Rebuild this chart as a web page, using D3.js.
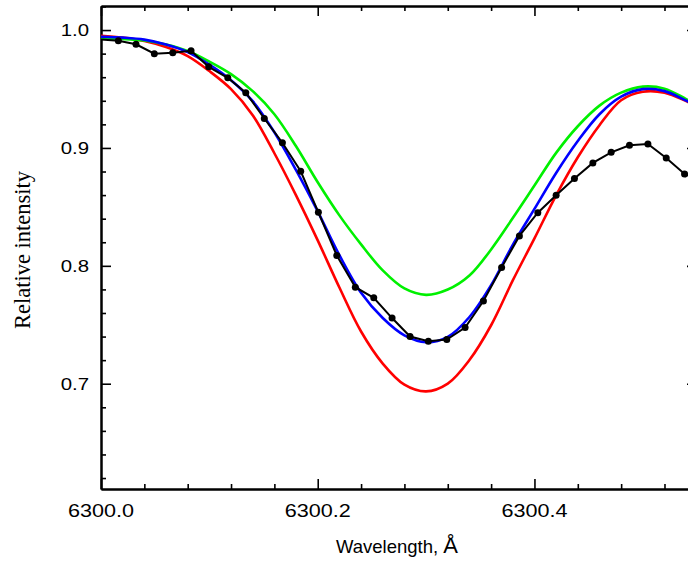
<!DOCTYPE html>
<html>
<head>
<meta charset="utf-8">
<script src="https://cdn.jsdelivr.net/npm/d3@7"></script>
<style>
  body { margin: 0; background: #fff; }
  svg { display: block; }
</style>
</head>
<body>
<div id="lineContainer"></div>
<script>
// observed spectrum (black dots)
var obsWave = [6299.998, 6300.0160, 6300.0323, 6300.0492, 6300.0662, 6300.0831, 6300.0994, 6300.1170,
  6300.1336, 6300.1507, 6300.1674, 6300.1843, 6300.2006, 6300.2176, 6300.2347, 6300.2517, 6300.2686,
  6300.2852, 6300.3021, 6300.3191, 6300.3360, 6300.3529, 6300.3697, 6300.3861, 6300.4031, 6300.4200,
  6300.4369, 6300.4539, 6300.4708, 6300.4877, 6300.5047, 6300.5216, 6300.5385, 6300.5553];
var obsFlux = [0.9921, 0.9909, 0.9879, 0.9800, 0.9807, 0.9824, 0.9688, 0.9595,
  0.9469, 0.9250, 0.9044, 0.8802, 0.8454, 0.8088, 0.7819, 0.7729, 0.7557,
  0.7400, 0.7360, 0.7375, 0.7477, 0.7702, 0.7986, 0.8254, 0.8451, 0.8598,
  0.8740, 0.8873, 0.8963, 0.9023, 0.9034, 0.8915, 0.8779, 0.8720];

// synthetic profiles
var modelWave = [6300.00, 6300.02, 6300.04, 6300.06, 6300.08, 6300.10, 6300.12, 6300.14, 6300.16,
  6300.18, 6300.20, 6300.22, 6300.24, 6300.26, 6300.28, 6300.30, 6300.32, 6300.34, 6300.36,
  6300.38, 6300.40, 6300.42, 6300.44, 6300.46, 6300.48, 6300.50, 6300.52, 6300.54, 6300.56];
var redFlux = [0.9952, 0.9936, 0.9907, 0.9856, 0.9779, 0.9652, 0.9499, 0.9278, 0.8955,
  0.8598, 0.8216, 0.7816, 0.7443, 0.7171, 0.6992, 0.6935, 0.7001, 0.7201, 0.7496,
  0.7876, 0.8233, 0.8598, 0.8921, 0.9193, 0.9405, 0.9477, 0.9469, 0.9397, 0.9303];
var blueFlux = [0.9943, 0.9936, 0.9919, 0.9877, 0.9813, 0.9707, 0.9575, 0.9397, 0.9133,
  0.8811, 0.8462, 0.8090, 0.7771, 0.7557, 0.7410, 0.7352, 0.7398, 0.7566, 0.7836,
  0.8178, 0.8483, 0.8788, 0.9059, 0.9286, 0.9435, 0.9499, 0.9482, 0.9401, 0.9312];
var greenFlux = [0.9929, 0.9924, 0.9911, 0.9877, 0.9822, 0.9732, 0.9626, 0.9482, 0.9286,
  0.9014, 0.8709, 0.8428, 0.8182, 0.7961, 0.7808, 0.7754, 0.7799, 0.7918, 0.8139,
  0.8405, 0.8681, 0.8958, 0.9184, 0.9359, 0.9469, 0.9520, 0.9503, 0.9414, 0.9312];

var xMajor = [6300.0, 6300.2, 6300.4];
var xLabels = ["6300.0", "6300.2", "6300.4"];
var yMajor = [0.7, 0.8, 0.9, 1.0];
var yLabels = ["0.7", "0.8", "0.9", "1.0"];

//////////////////////// svg ////////////////////////
var width = 688, height = 562;
var margin = { top: 6, left: 101, right: -9, bottom: 73 };

var svg = d3.select('#lineContainer')
  .append('svg')
  .attr('width', width)
  .attr('height', height);

var x = d3.scaleLinear()
  .domain([6300.0, 6300.55])
  .range([margin.left, width - margin.right]);

var y = d3.scaleLinear()
  .domain([0.6107, 1.0204])
  .range([height - margin.bottom, margin.top]);

svg.append('clipPath')
  .attr('id', 'plotClip')
  .append('rect')
  .attr('x', margin.left)
  .attr('y', margin.top)
  .attr('width', x.range()[1] - margin.left)
  .attr('height', y.range()[0] - margin.top);

//////////////////////// axes ////////////////////////
var xMinor = d3.range(0, 14).map(function(i) { return 6300 + i * 0.04; })
  .filter(function(v) { return v <= 6300.55 && Math.abs(((v - 6300) / 0.2) - Math.round((v - 6300) / 0.2)) > 1e-6; });
var yMinor = d3.range(0, 21).map(function(i) { return 0.62 + i * 0.02; })
  .filter(function(v) { return v <= 1.02 && Math.abs(v * 10 - Math.round(v * 10)) > 1e-6; });

function addAxis(axis, tx, ty) {
  svg.append('g')
    .attr('class', 'axis')
    .attr('transform', 'translate(' + tx + ',' + ty + ')')
    .call(axis);
}

var x0 = x.range()[0], x1 = x.range()[1], y0 = y.range()[0], y1 = y.range()[1];

// bottom / top
addAxis(d3.axisBottom(x).tickValues(xMajor).tickSize(-10).tickFormat('').tickSizeOuter(0), 0, y0);
addAxis(d3.axisBottom(x).tickValues(xMinor).tickSize(-5).tickFormat('').tickSizeOuter(0), 0, y0);
addAxis(d3.axisTop(x).tickValues(xMajor).tickSize(-10).tickFormat('').tickSizeOuter(0), 0, y1);
addAxis(d3.axisTop(x).tickValues(xMinor).tickSize(-5).tickFormat('').tickSizeOuter(0), 0, y1);
// left / right
addAxis(d3.axisLeft(y).tickValues(yMajor).tickSize(-10).tickFormat('').tickSizeOuter(0), x0, 0);
addAxis(d3.axisLeft(y).tickValues(yMinor).tickSize(-5).tickFormat('').tickSizeOuter(0), x0, 0);
addAxis(d3.axisRight(y).tickValues(yMajor).tickSize(-10).tickFormat('').tickSizeOuter(0), x1, 0);
addAxis(d3.axisRight(y).tickValues(yMinor).tickSize(-5).tickFormat('').tickSizeOuter(0), x1, 0);

svg.selectAll('.axis path')
  .attr('stroke', '#000')
  .attr('stroke-width', 2);
svg.selectAll('.axis line')
  .attr('stroke', '#000')
  .attr('stroke-width', 1.6);

// tick labels (stretched sans like the original)
svg.selectAll('.xlab')
  .data(xMajor)
  .enter()
  .append('text')
  .attr('class', 'xlab')
  .attr('transform', function(d) { return 'translate(' + x(d) + ',' + (y0 + 28) + ') scale(1.2,1)'; })
  .attr('text-anchor', 'middle')
  .attr('font-family', 'Liberation Sans, Arial, sans-serif')
  .attr('font-size', 18)
  .text(function(d, i) { return xLabels[i]; });

svg.selectAll('.ylab')
  .data(yMajor)
  .enter()
  .append('text')
  .attr('class', 'ylab')
  .attr('transform', function(d) { return 'translate(' + (x0 - 12) + ',' + (y(d) + 6) + ') scale(1.2,1)'; })
  .attr('text-anchor', 'end')
  .attr('font-family', 'Liberation Sans, Arial, sans-serif')
  .attr('font-size', 17)
  .text(function(d, i) { return yLabels[i]; });

// axis titles
var xTitle = svg.append('text')
  .attr('transform', 'translate(336,553)')
  .attr('font-family', 'Liberation Sans, Arial, sans-serif')
  .attr('fill', '#000');
xTitle.append('tspan').attr('font-size', 18.5).text('Wavelength, ');
xTitle.append('tspan').attr('font-size', 22).text('Å');

svg.append('text')
  .attr('transform', 'translate(30,250) rotate(-90)')
  .attr('text-anchor', 'middle')
  .attr('font-family', 'Liberation Serif, Times New Roman, serif')
  .attr('font-size', 22.5)
  .text('Relative intensity');

//////////////////////// curves ////////////////////////
var plot = svg.append('g').attr('clip-path', 'url(#plotClip)');

var modelLine = d3.line()
  .x(function(d) { return x(d[0]); })
  .y(function(d) { return y(d[1]); })
  .curve(d3.curveCatmullRom);

var models = [
  { key: 'red', color: '#ff0000', values: redFlux },
  { key: 'green', color: '#00f000', values: greenFlux },
  { key: 'blue', color: '#0000ff', values: blueFlux }
];

plot.selectAll('.model')
  .data(models)
  .enter()
  .append('path')
  .attr('class', 'model')
  .attr('d', function(m) { return modelLine(modelWave.map(function(w, i) { return [w, m.values[i]]; })); })
  .attr('fill', 'none')
  .attr('stroke', function(m) { return m.color; })
  .attr('stroke-width', 2.6);

var obs = obsWave.map(function(w, i) { return [w, obsFlux[i]]; });

plot.append('path')
  .attr('d', d3.line().x(function(d) { return x(d[0]); }).y(function(d) { return y(d[1]); })(obs))
  .attr('fill', 'none')
  .attr('stroke', '#000')
  .attr('stroke-width', 2);

plot.selectAll('.dot')
  .data(obs.filter(function(d) { return d[0] > 6300.005; }))
  .enter()
  .append('circle')
  .attr('class', 'dot')
  .attr('cx', function(d) { return x(d[0]); })
  .attr('cy', function(d) { return y(d[1]); })
  .attr('r', 3.5)
  .attr('fill', '#000');
</script>
</body>
</html>
